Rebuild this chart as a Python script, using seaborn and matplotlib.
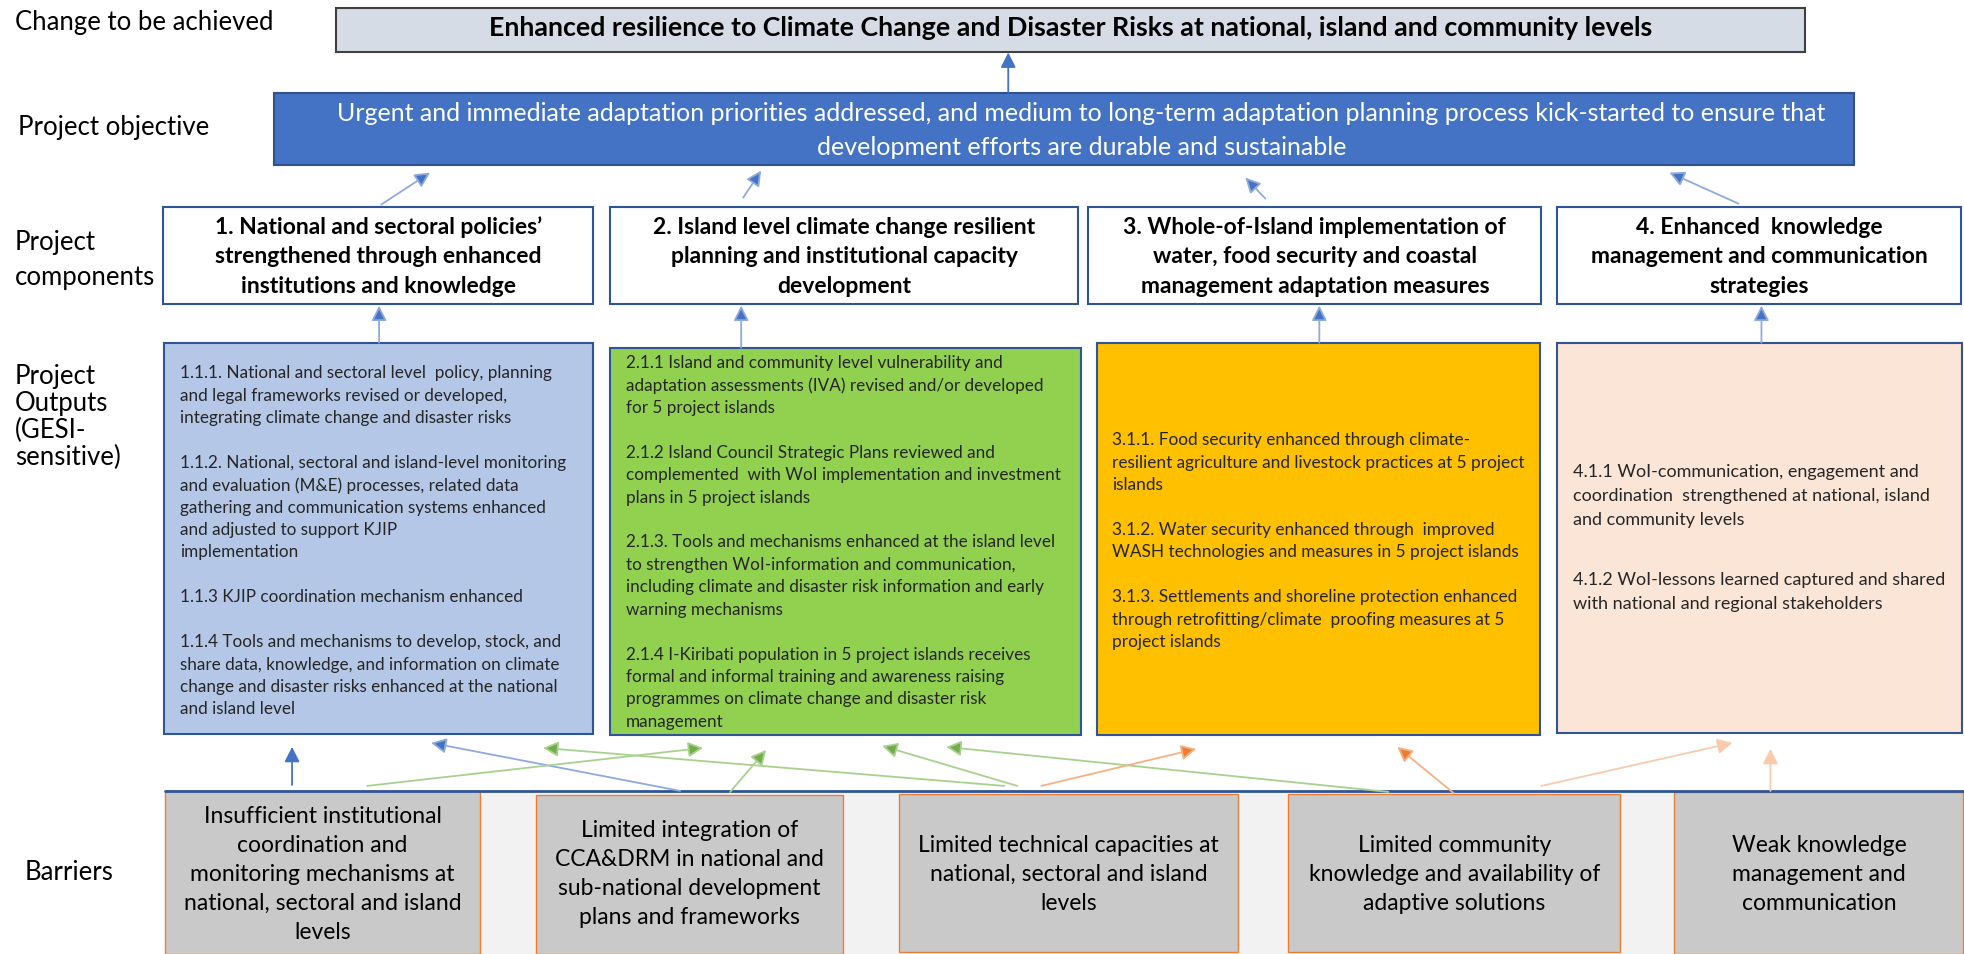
"""
Results framework diagram - Kiribati Whole-of-Island adaptation project
"""

import matplotlib.pyplot as plt
import seaborn as sns
from matplotlib.patches import Rectangle

sns.set_style("white")
plt.rcParams['font.family'] = ['Lato', 'DejaVu Sans']

# ---------------- text content ----------------
level_labels = ["Change to be achieved", "Project objective", "Project\ncomponents",
                "Project\nOutputs\n(GESI-\nsensitive)", "Barriers"]

goal = "Enhanced resilience to Climate Change and Disaster Risks at national, island and community levels"

objective = ["Urgent and immediate adaptation priorities addressed, and medium to long-term adaptation "
             "planning process kick-started to ensure that",
             "development efforts are durable and sustainable"]

components = [
    ["1. National and sectoral policies\u2019", "strengthened through enhanced", "institutions and knowledge"],
    ["2. Island level climate change resilient", "planning and institutional capacity", "development"],
    ["3. Whole-of-Island implementation of", "water, food security and coastal",
     "management adaptation measures"],
    ["4. Enhanced  knowledge", "management and communication", "strategies"],
]

# outputs: one list of paragraphs per component, each paragraph a list of lines
outputs_1 = [
    ["1.1.1. National and sectoral level  policy, planning",
     "and legal frameworks revised or developed,",
     "integrating climate change and disaster risks"],
    ["1.1.2. National, sectoral and island-level monitoring",
     "and evaluation (M&E) processes, related data",
     "gathering and communication systems enhanced",
     "and adjusted to support KJIP",
     "implementation"],
    ["1.1.3 KJIP coordination mechanism enhanced"],
    ["1.1.4 Tools and mechanisms to develop, stock, and",
     "share data, knowledge, and information on climate",
     "change and disaster risks enhanced at the national",
     "and island level"],
]
outputs_2 = [
    ["2.1.1 Island and community level vulnerability and",
     "adaptation assessments (IVA) revised and/or developed",
     "for 5 project islands"],
    ["2.1.2 Island Council Strategic Plans reviewed and",
     "complemented  with WoI implementation and investment",
     "plans in 5 project islands"],
    ["2.1.3. Tools and mechanisms enhanced at the island level",
     "to strengthen WoI-information and communication,",
     "including climate and disaster risk information and early",
     "warning mechanisms"],
    ["2.1.4 I-Kiribati population in 5 project islands receives",
     "formal and informal training and awareness raising",
     "programmes on climate change and disaster risk",
     "management"],
]
outputs_3 = [
    ["3.1.1. Food security enhanced through climate-",
     "resilient agriculture and livestock practices at 5 project",
     "islands"],
    ["3.1.2. Water security enhanced through  improved",
     "WASH technologies and measures in 5 project islands"],
    ["3.1.3. Settlements and shoreline protection enhanced",
     "through retrofitting/climate  proofing measures at 5",
     "project islands"],
]
outputs_4 = [
    ["4.1.1 WoI-communication, engagement and",
     "coordination  strengthened at national, island",
     "and community levels"],
    ["4.1.2 WoI-lessons learned captured and shared",
     "with national and regional stakeholders"],
]
outputs = [outputs_1, outputs_2, outputs_3, outputs_4]

barriers = [
    ["Insufficient institutional", "coordination and", "monitoring mechanisms at",
     "national, sectoral and island", "levels"],
    ["Limited integration of", "CCA&DRM in national and", "sub-national development",
     "plans and frameworks"],
    ["Limited technical capacities at", "national, sectoral and island", "levels"],
    ["Limited community", "knowledge and availability of", "adaptive solutions"],
    ["Weak knowledge", "management and", "communication"],
]

# ---------------- layout (pixels, y downwards) ----------------
W, H = 1964, 954
label_pos = [(15, 22, 35), (18, 127, 35), (15, 242, 35), (15, 376, 27), (25, 872, 35)]

goal_box = (336, 8, 1805, 52)
obj_box = (274, 93, 1854, 165)
comp_boxes = [(163, 207, 593, 304), (610, 207, 1078, 304), (1088, 207, 1541, 304), (1557, 207, 1961, 304)]
out_boxes = [(164, 343, 593, 734), (610, 348, 1081, 735), (1097, 343, 1540, 735), (1557, 343, 1962, 733)]
out_fill = ["#b4c7e7", "#92d050", "#ffc000", "#fbe5d6"]
# text x, first line y, line step, paragraph gap, font size
out_text = [(180, 373, 22.4, 44.8, 12.3), (626, 363, 22.4, 44.8, 12.3),
            (1112, 440, 22.4, 44.8, 12.4), (1573, 472, 23.7, 60.5, 13.0)]
band = (165, 791, 1964, 954)
bar_boxes = [(165, 791, 480, 954), (536, 795, 843, 954), (899, 794, 1238, 952),
             (1288, 794, 1620, 952), (1674, 792, 1963, 954)]

BLUE, LBLUE = "#4472c4", "#8faadc"
GREEN, LGREEN = "#70ad47", "#a9d18e"
ORANGE, LORANGE = "#ed7d31", "#f4b183"
PEACH = "#f8cbad"

# arrows: tail x, tail y, head x, head y, line colour, head colour
arrows = [
    (1008, 93, 1008, 53, BLUE, BLUE),
    (381, 205, 430, 173, LBLUE, BLUE),
    (743, 198, 761, 171, LBLUE, BLUE),
    (1265, 199, 1245, 178, LBLUE, BLUE),
    (1738, 204, 1669, 173, LBLUE, BLUE),
    (379, 343, 379, 306, LBLUE, BLUE),
    (741, 348, 741, 306, LBLUE, BLUE),
    (1319, 343, 1319, 306, LBLUE, BLUE),
    (1761, 343, 1761, 306, LBLUE, BLUE),
    (292, 785, 292, 747, BLUE, BLUE),
    (680, 791, 431, 743, LBLUE, BLUE),
    (367, 786, 703, 748, LGREEN, GREEN),
    (1004, 786, 543, 748, LGREEN, GREEN),
    (730, 792, 766, 750, LGREEN, GREEN),
    (1017, 786, 882, 746, LGREEN, GREEN),
    (1388, 792, 946, 747, LGREEN, GREEN),
    (1041, 786, 1196, 749, LORANGE, ORANGE),
    (1453, 793, 1397, 747, LORANGE, ORANGE),
    (1541, 786, 1732, 743, PEACH, PEACH),
    (1770, 791, 1770, 749, PEACH, PEACH),
]


def box(ax, b, fc, ec, lw=1.2):
    x0, y0, x1, y1 = b
    ax.add_patch(Rectangle((x0, y0), x1 - x0, y1 - y0, facecolor=fc, edgecolor=ec, linewidth=lw))


def put_lines(ax, x, y0, lines, step, **kw):
    for i, line in enumerate(lines):
        ax.text(x, y0 + i * step, line, va='center', **kw)


fig = plt.figure(figsize=(19.645, 9.545), dpi=100)
ax = fig.add_axes([0, 0, 1, 1])
ax.set_xlim(0, W)
ax.set_ylim(H, 0)
ax.axis('off')

# left hand level labels
for txt, (x, y, step) in zip(level_labels, label_pos):
    put_lines(ax, x, y, txt.split("\n"), step, ha='left', fontsize=18.5, color='#000000')

# goal and objective
box(ax, goal_box, "#d6dce5", "#404040", 1.5)
ax.text((goal_box[0] + goal_box[2]) / 2, 28, goal, ha='center', va='center',
        fontsize=19.3, fontweight='bold', color='#000000')
box(ax, obj_box, BLUE, "#2f528f", 1.5)
put_lines(ax, 1081, 113, objective, 34, ha='center', fontsize=18, color='white')

# components
for b, lines in zip(comp_boxes, components):
    box(ax, b, "white", "#2f5597", 1.5)
    put_lines(ax, (b[0] + b[2]) / 2, 227, lines, 29.5, ha='center',
              fontsize=16.5, fontweight='bold', color='#000000')

# outputs
for b, fc, paras, (tx, ty, step, gap, fs) in zip(out_boxes, out_fill, outputs, out_text):
    box(ax, b, fc, "#2f5597", 1.5)
    y = ty
    for para in paras:
        put_lines(ax, tx, y, para, step, ha='left', fontsize=fs, color='#262626')
        y += (len(para) - 1) * step + gap

# barriers band and boxes
box(ax, band, "#f2f2f2", "none")
ax.plot([band[0], band[2]], [band[1], band[1]], color="#2f5597", lw=2)
for b, lines in zip(bar_boxes, barriers):
    box(ax, b, "#c9c9c9", ORANGE, 1.0)
    n = len(lines)
    put_lines(ax, (b[0] + b[2]) / 2, 874 - (n - 1) * 29 / 2, lines, 29, ha='center',
              fontsize=16.5, color='#000000')

# arrows
for x0, y0, x1, y1, lc, hc in arrows:
    ax.annotate("", xy=(x1, y1), xytext=(x0, y0),
                arrowprops=dict(arrowstyle='-|>,head_length=0.75,head_width=0.38',
                                mutation_scale=12, ec=lc, fc=hc, lw=1.3,
                                shrinkA=0, shrinkB=0))

plt.savefig('out.png', dpi=100)
plt.close()
